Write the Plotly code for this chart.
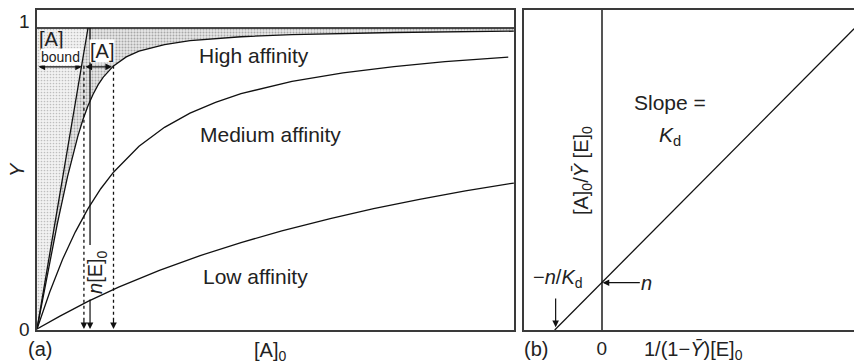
import plotly.graph_objects as go

# ---------------- data ----------------
# Panel (a): fractional saturation Y versus total ligand [A]0 (units of n[E]0)
high_x = [0, 0.2, 0.4, 0.6, 0.8, 0.9, 1.0, 1.1, 1.2, 1.3, 1.5, 1.75, 2.0, 2.5, 3.0, 4.0, 5.0, 7.0, 9.35]
high_y = [0, 0.180, 0.351, 0.507, 0.640, 0.695, 0.742, 0.780, 0.812, 0.837, 0.874, 0.904, 0.923, 0.945, 0.958, 0.971, 0.978, 0.985, 0.9895]

med_x = [0, 0.25, 0.5, 0.75, 1.0, 1.25, 1.5, 2.0, 2.5, 3.0, 3.5, 4.0, 5.0, 6.0, 7.0, 8.0, 9.24]
med_y = [0, 0.123, 0.231, 0.322, 0.400, 0.466, 0.521, 0.607, 0.670, 0.717, 0.753, 0.782, 0.823, 0.851, 0.872, 0.888, 0.903]

low_x = [0, 0.45, 1.0, 1.6, 2.4, 3.2, 4.0, 4.8, 5.75, 6.6, 7.5, 8.4, 9.35]
low_y = [0, 0.043, 0.092, 0.139, 0.195, 0.244, 0.287, 0.326, 0.367, 0.400, 0.431, 0.459, 0.485]

stoich_x = [0, 1.0]          # titration line  Y = [A]0 / n[E]0
stoich_y = [0, 1.0]
saturation = 1.0             # Y = 1
nE0 = 1.04                   # n[E]0 marker
level_y = 0.871              # level of the [A]bound / [A] arrows
bound_end = 0.88
free_start, free_end = 0.92, 1.47
dotted_x = [0.92, 1.50]
dotted_top = 0.875
xmax_a = 9.353

# Panel (b): linear plot, intercepts n and -n/Kd
b_line_x = [-1.0, 5.37]
b_line_y = [0.0, 6.37]
n_val = 1.0
neg_n_over_Kd = -1.0

# ---------------- styles ----------------
FONT = "Liberation Sans, Arial, sans-serif"
TXT = "#222"
LINE = "#111"
FRAME = "#3a3a3a"

fig = go.Figure()

# stippled regions
fig.add_trace(go.Scatter(
    x=[stoich_x[0], stoich_x[1], 0, stoich_x[0]],
    y=[stoich_y[0], stoich_y[1], saturation, stoich_y[0]],
    mode="lines", line=dict(width=0), fill="toself",
    fillcolor="rgba(0,0,0,0)",
    fillpattern=dict(shape=".", fgcolor="#8a8a8a", bgcolor="#f2f2f2", size=3, solidity=0.25),
    hoverinfo="skip", showlegend=False, xaxis="x", yaxis="y"))
poly_x = [stoich_x[0], stoich_x[1], xmax_a] + high_x[::-1]
poly_y = [stoich_y[0], stoich_y[1], saturation] + high_y[::-1]
fig.add_trace(go.Scatter(
    x=poly_x, y=poly_y, mode="lines", line=dict(width=0), fill="toself",
    fillcolor="rgba(0,0,0,0)",
    fillpattern=dict(shape=".", fgcolor="#6a6a6a", bgcolor="#e6e6e6", size=3, solidity=0.35),
    hoverinfo="skip", showlegend=False, xaxis="x", yaxis="y"))

def line(x, y, width=1.3, color=LINE, dash="solid", xa="x", ya="y"):
    fig.add_trace(go.Scatter(x=x, y=y, mode="lines",
                             line=dict(color=color, width=width, dash=dash),
                             hoverinfo="skip", showlegend=False, xaxis=xa, yaxis=ya))

# curves
line(high_x, high_y)
line(med_x, med_y)
line(low_x, low_y)
line(stoich_x, stoich_y)
line([0, xmax_a], [saturation, saturation], width=1.6)
# n[E]0 vertical marker (upper part)
line([nE0, nE0], [saturation, 0.279])
# dotted projections
for dx in dotted_x:
    line([dx, dx], [dotted_top, 0.03], width=1.3, dash="dot")

# panel b line
line(b_line_x, b_line_y, xa="x2", ya="y2")

ann = []
def arrow(x, y, ax, ay, xr="x", yr="y", side="end"):
    ann.append(dict(x=x, y=y, ax=ax, ay=ay, xref=xr, yref=yr, axref=xr, ayref=yr,
                    text="", showarrow=True, arrowhead=2, arrowsize=1.1, arrowwidth=1.2,
                    arrowcolor=LINE, arrowside=side, standoff=0, startstandoff=0))

def text(t, x, y, xr="paper", yr="paper", size=20, angle=0, bg=None, xanchor="center"):
    d = dict(text=t, x=x, y=y, xref=xr, yref=yr, showarrow=False, textangle=angle,
             font=dict(family=FONT, size=size, color=TXT), xanchor=xanchor, yanchor="middle")
    if bg:
        d.update(bgcolor=bg, borderpad=0)
    ann.append(d)

# horizontal double arrows
arrow(bound_end, level_y, 0.0, level_y, side="end+start")
arrow(free_end, level_y, free_start, level_y, side="end+start")
# dotted-line arrowheads
for dx in dotted_x:
    arrow(dx, 0.0, dx, 0.035)
# n[E]0 arrow lower part
arrow(nE0, 0.0, nE0, 0.103)

# panel a texts
text("High affinity", 4.25, 0.907, "x", "y", size=21)
text("Medium affinity", 4.57, 0.6455, "x", "y", size=21)
text("Low affinity", 4.28, 0.176, "x", "y", size=21)
text("[A]", 0.266, 0.965, "x", "y", size=20)
text("bound", 0.47, 0.902, "x", "y", size=14, bg="white")
text("[A]", 1.265, 0.924, "x", "y", size=20, bg="white")
text("<i>n</i>[E]<sub>0</sub>", 1.18, 0.19, "x", "y", size=20, angle=-90)

text("1", 24 / 854, (363 - 22) / 363, size=19)
text("0", 24 / 854, (363 - 329) / 363, size=19)
text("<i>Y</i>", 17 / 854, (363 - 170) / 363, size=20, angle=-90)
text("(a)", 40 / 854, (363 - 349) / 363, size=20)
text("[A]<sub>0</sub>", 270 / 854, (363 - 351) / 363, size=20)
text("(b)", 536 / 854, (363 - 349) / 363, size=20)
text("1/(1−<i>Ȳ</i>)[E]<sub>0</sub>", 693 / 854, (363 - 350) / 363, size=20)

# panel b texts and arrows
text("Slope =", 1.453, 4.80, "x2", "y2", size=21)
text("<i>K</i><sub>d</sub>", 1.453, 4.10, "x2", "y2", size=21)
text("−<i>n</i>/<i>K</i><sub>d</sub>", -0.94, 1.08, "x2", "y2", size=20)
text("[A]<sub>0</sub>/<i>Ȳ</i> [E]<sub>0</sub>", -0.42, 3.38, "x2", "y2", size=20, angle=-90)
arrow(neg_n_over_Kd + 0.02, 0.06, neg_n_over_Kd + 0.02, 0.70, "x2", "y2")
ann.append(dict(text="<i>n</i>", x=0.02, y=n_val, xref="x2", yref="y2",
                ax=0.96, ay=n_val, axref="x2", ayref="y2", showarrow=True,
                arrowhead=2, arrowsize=1.1, arrowwidth=1.2, arrowcolor=LINE, standoff=0,
                font=dict(family=FONT, size=20, color=TXT)))

y_dom = [(363 - 330) / 363, (363 - 10) / 363]
fig.update_layout(
    width=854, height=363, margin=dict(l=0, r=0, t=0, b=0),
    paper_bgcolor="white", plot_bgcolor="white", showlegend=False,
    font=dict(family=FONT, color=TXT),
    xaxis=dict(domain=[37 / 854, 514 / 854], range=[0, xmax_a], showline=True, mirror=True,
               linecolor=FRAME, linewidth=1.5, showgrid=False, zeroline=False,
               showticklabels=False, ticks=""),
    yaxis=dict(domain=y_dom, range=[-1 / 301, 319 / 301], showline=True, mirror=True,
               linecolor=FRAME, linewidth=1.5, showgrid=False, zeroline=False,
               showticklabels=False, ticks=""),
    xaxis2=dict(domain=[524 / 854, 1.0], range=[-77.7 / 47, 252.3 / 47], anchor="y2",
                showline=True, mirror=True, linecolor=FRAME, linewidth=1.5, showgrid=False,
                zeroline=True, zerolinecolor="#555", zerolinewidth=1.5,
                tickvals=[0], ticktext=["0"], ticks="", ticklabelstandoff=0,
                tickfont=dict(family=FONT, size=19, color=TXT)),
    yaxis2=dict(domain=y_dom, range=[0, 320 / 47.3], anchor="x2", showline=True, mirror=False,
                linecolor=FRAME, linewidth=1.5, showgrid=False, zeroline=False,
                showticklabels=False, ticks=""),
    annotations=ann,
)

fig.write_html("out.html", config={"displayModeBar": False},
               post_script="document.body.style.margin='0';document.body.style.overflow='hidden';")
